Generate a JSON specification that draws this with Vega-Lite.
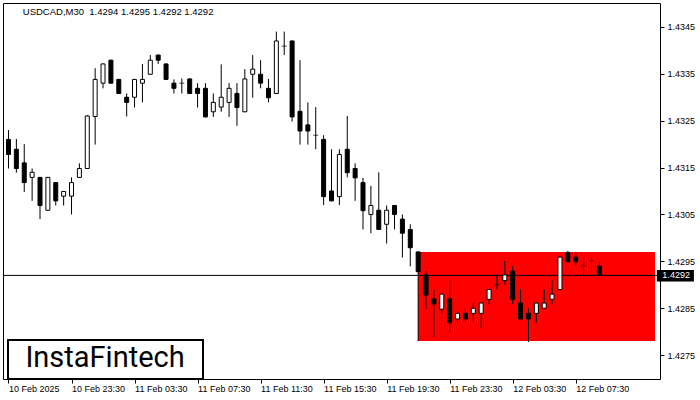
{
  "$schema": "https://vega.github.io/schema/vega-lite/v6.json",
  "width": 657,
  "height": 376,
  "autosize": {"type": "none"},
  "padding": {"left": 3, "top": 3, "right": 40, "bottom": 21},
  "background": "white",
  "config": {"view": {"stroke": "black", "strokeWidth": 1}, "font": "Liberation Sans"},
  "datasets": {
    "candles": [
      {"i": 0, "o": 1.43210, "h": 1.43230, "l": 1.43148, "c": 1.43178},
      {"i": 1, "o": 1.43189, "h": 1.43211, "l": 1.43139, "c": 1.43148},
      {"i": 2, "o": 1.43160, "h": 1.43200, "l": 1.43098, "c": 1.43118},
      {"i": 3, "o": 1.43129, "h": 1.43148, "l": 1.43079, "c": 1.43140},
      {"i": 4, "o": 1.43129, "h": 1.43130, "l": 1.43040, "c": 1.43069},
      {"i": 5, "o": 1.43059, "h": 1.43130, "l": 1.43058, "c": 1.43129},
      {"i": 6, "o": 1.43118, "h": 1.43119, "l": 1.43069, "c": 1.43079},
      {"i": 7, "o": 1.43089, "h": 1.43100, "l": 1.43069, "c": 1.43099},
      {"i": 8, "o": 1.43089, "h": 1.43129, "l": 1.43050, "c": 1.43118},
      {"i": 9, "o": 1.43129, "h": 1.43159, "l": 1.43128, "c": 1.43148},
      {"i": 10, "o": 1.43148, "h": 1.43262, "l": 1.43147, "c": 1.43260},
      {"i": 11, "o": 1.43259, "h": 1.43362, "l": 1.43199, "c": 1.43338},
      {"i": 12, "o": 1.43330, "h": 1.43372, "l": 1.43319, "c": 1.43371},
      {"i": 13, "o": 1.43379, "h": 1.43380, "l": 1.43329, "c": 1.43330},
      {"i": 14, "o": 1.43338, "h": 1.43339, "l": 1.43307, "c": 1.43308},
      {"i": 15, "o": 1.43300, "h": 1.43308, "l": 1.43259, "c": 1.43289},
      {"i": 16, "o": 1.43300, "h": 1.43339, "l": 1.43278, "c": 1.43338},
      {"i": 17, "o": 1.43330, "h": 1.43371, "l": 1.43289, "c": 1.43338},
      {"i": 18, "o": 1.43349, "h": 1.43390, "l": 1.43348, "c": 1.43379},
      {"i": 19, "o": 1.43390, "h": 1.43391, "l": 1.43371, "c": 1.43379},
      {"i": 20, "o": 1.43371, "h": 1.43372, "l": 1.43337, "c": 1.43338},
      {"i": 21, "o": 1.43330, "h": 1.43338, "l": 1.43308, "c": 1.43319},
      {"i": 22, "o": 1.43330, "h": 1.43340, "l": 1.43308, "c": 1.43330},
      {"i": 23, "o": 1.43339, "h": 1.43340, "l": 1.43307, "c": 1.43308},
      {"i": 24, "o": 1.43319, "h": 1.43330, "l": 1.43278, "c": 1.43308},
      {"i": 25, "o": 1.43319, "h": 1.43330, "l": 1.43257, "c": 1.43258},
      {"i": 26, "o": 1.43269, "h": 1.43308, "l": 1.43258, "c": 1.43289},
      {"i": 27, "o": 1.43279, "h": 1.43370, "l": 1.43269, "c": 1.43300},
      {"i": 28, "o": 1.43289, "h": 1.43330, "l": 1.43258, "c": 1.43319},
      {"i": 29, "o": 1.43308, "h": 1.43330, "l": 1.43239, "c": 1.43278},
      {"i": 30, "o": 1.43269, "h": 1.43360, "l": 1.43268, "c": 1.43339},
      {"i": 31, "o": 1.43349, "h": 1.43390, "l": 1.43299, "c": 1.43360},
      {"i": 32, "o": 1.43349, "h": 1.43379, "l": 1.43319, "c": 1.43330},
      {"i": 33, "o": 1.43319, "h": 1.43339, "l": 1.43289, "c": 1.43299},
      {"i": 34, "o": 1.43308, "h": 1.43440, "l": 1.43307, "c": 1.43420},
      {"i": 35, "o": 1.43409, "h": 1.43440, "l": 1.43390, "c": 1.43409},
      {"i": 36, "o": 1.43420, "h": 1.43421, "l": 1.43248, "c": 1.43258},
      {"i": 37, "o": 1.43270, "h": 1.43379, "l": 1.43199, "c": 1.43228},
      {"i": 38, "o": 1.43241, "h": 1.43289, "l": 1.43199, "c": 1.43228},
      {"i": 39, "o": 1.43219, "h": 1.43279, "l": 1.43189, "c": 1.43219},
      {"i": 40, "o": 1.43210, "h": 1.43219, "l": 1.43070, "c": 1.43088},
      {"i": 41, "o": 1.43100, "h": 1.43189, "l": 1.43078, "c": 1.43079},
      {"i": 42, "o": 1.43088, "h": 1.43189, "l": 1.43070, "c": 1.43178},
      {"i": 43, "o": 1.43189, "h": 1.43260, "l": 1.43129, "c": 1.43139},
      {"i": 44, "o": 1.43148, "h": 1.43159, "l": 1.43079, "c": 1.43128},
      {"i": 45, "o": 1.43118, "h": 1.43128, "l": 1.43018, "c": 1.43058},
      {"i": 46, "o": 1.43050, "h": 1.43111, "l": 1.43010, "c": 1.43069},
      {"i": 47, "o": 1.43059, "h": 1.43140, "l": 1.43017, "c": 1.43018},
      {"i": 48, "o": 1.43029, "h": 1.43069, "l": 1.42988, "c": 1.43059},
      {"i": 49, "o": 1.43069, "h": 1.43070, "l": 1.43018, "c": 1.43050},
      {"i": 50, "o": 1.43040, "h": 1.43050, "l": 1.42958, "c": 1.43010},
      {"i": 51, "o": 1.43018, "h": 1.43029, "l": 1.42939, "c": 1.42979},
      {"i": 52, "o": 1.42970, "h": 1.42971, "l": 1.42780, "c": 1.42928},
      {"i": 53, "o": 1.42921, "h": 1.42929, "l": 1.42848, "c": 1.42878},
      {"i": 54, "o": 1.42870, "h": 1.42890, "l": 1.42789, "c": 1.42859},
      {"i": 55, "o": 1.42848, "h": 1.42881, "l": 1.42838, "c": 1.42880},
      {"i": 56, "o": 1.42870, "h": 1.42910, "l": 1.42798, "c": 1.42819},
      {"i": 57, "o": 1.42827, "h": 1.42840, "l": 1.42819, "c": 1.42839},
      {"i": 58, "o": 1.42839, "h": 1.42850, "l": 1.42819, "c": 1.42827},
      {"i": 59, "o": 1.42839, "h": 1.42861, "l": 1.42819, "c": 1.42850},
      {"i": 60, "o": 1.42839, "h": 1.42862, "l": 1.42808, "c": 1.42861},
      {"i": 61, "o": 1.42869, "h": 1.42891, "l": 1.42859, "c": 1.42890},
      {"i": 62, "o": 1.42900, "h": 1.42921, "l": 1.42890, "c": 1.42900},
      {"i": 63, "o": 1.42909, "h": 1.42951, "l": 1.42900, "c": 1.42921},
      {"i": 64, "o": 1.42929, "h": 1.42940, "l": 1.42859, "c": 1.42869},
      {"i": 65, "o": 1.42861, "h": 1.42890, "l": 1.42826, "c": 1.42827},
      {"i": 66, "o": 1.42839, "h": 1.42850, "l": 1.42778, "c": 1.42827},
      {"i": 67, "o": 1.42839, "h": 1.42862, "l": 1.42819, "c": 1.42861},
      {"i": 68, "o": 1.42850, "h": 1.42890, "l": 1.42849, "c": 1.42861},
      {"i": 69, "o": 1.42869, "h": 1.42910, "l": 1.42859, "c": 1.42880},
      {"i": 70, "o": 1.42890, "h": 1.42960, "l": 1.42889, "c": 1.42959},
      {"i": 71, "o": 1.42969, "h": 1.42972, "l": 1.42948, "c": 1.42949},
      {"i": 72, "o": 1.42959, "h": 1.42970, "l": 1.42940, "c": 1.42949},
      {"i": 73, "o": 1.42940, "h": 1.42959, "l": 1.42921, "c": 1.42940},
      {"i": 74, "o": 1.42951, "h": 1.42959, "l": 1.42928, "c": 1.42951},
      {"i": 75, "o": 1.42940, "h": 1.42950, "l": 1.42920, "c": 1.42920}
    ],
    "zone": [{"i1": 52, "i2": 82.0625, "lo": 1.4278, "hi": 1.4297}],
    "last": [{"p": 1.4292}],
    "logo": [{"label": "InstaFintech"}],
    "header": [{"label": "USDCAD,M30\u00a0 1.4294 1.4295 1.4292 1.4292"}]
  },
  "layer": [
    {
      "data": {"name": "zone"},
      "mark": {"type": "rect", "color": "#ff0000"},
      "encoding": {
        "x": {"field": "i1", "type": "quantitative",
          "scale": {"domain": [-0.0625, 82.0625], "nice": false, "zero": false},
          "axis": {"values": [0, 8, 16, 24, 32, 40, 48, 56, 64, 72],
            "labelExpr": "['10 Feb 2025','10 Feb 23:30','11 Feb 03:30','11 Feb 07:30','11 Feb 11:30','11 Feb 15:30','11 Feb 19:30','11 Feb 23:30','12 Feb 03:30','12 Feb 07:30'][round(datum.value/8)]",
            "labelAlign": "left", "labelPadding": 1, "tickSize": 4, "tickColor": "black",
            "domain": false, "grid": false, "labelFontSize": 9, "labelColor": "black",
            "title": null, "labelFlush": false, "labelOverlap": false, "labelBound": false}},
        "x2": {"field": "i2"},
        "y": {"field": "lo", "type": "quantitative",
          "scale": {"domain": [1.42699, 1.43501], "nice": false, "zero": false},
          "axis": {"orient": "right", "values": [1.4275, 1.4285, 1.4295, 1.4305, 1.4315, 1.4325, 1.4335, 1.4345],
            "format": ".4f", "tickSize": 4, "tickColor": "black", "labelPadding": 3, "domain": false, "grid": false,
            "title": null, "labelFontSize": 9, "labelColor": "black", "labelOverlap": false, "labelFlush": false}},
        "y2": {"field": "hi"}
      }
    },
    {
      "data": {"name": "last"},
      "mark": {"type": "rule", "color": "black", "strokeWidth": 1},
      "encoding": {"y": {"field": "p", "type": "quantitative"}}
    },
    {
      "data": {"name": "candles"},
      "mark": {"type": "rule", "color": "black", "strokeWidth": 1},
      "encoding": {
        "x": {"field": "i", "type": "quantitative"},
        "y": {"field": "l", "type": "quantitative"},
        "y2": {"field": "h"}
      }
    },
    {
      "data": {"name": "candles"},
      "transform": [{"filter": "datum.o != datum.c"}],
      "mark": {"type": "bar", "size": 4, "stroke": "black", "strokeWidth": 1},
      "encoding": {
        "x": {"field": "i", "type": "quantitative"},
        "y": {"field": "o", "type": "quantitative"},
        "y2": {"field": "c"},
        "fill": {"condition": {"test": "datum.c < datum.o", "value": "black"}, "value": "white"}
      }
    },
    {
      "data": {"name": "candles"},
      "transform": [{"filter": "datum.o == datum.c"}],
      "mark": {"type": "tick", "orient": "horizontal", "size": 5, "thickness": 1, "color": "black"},
      "encoding": {
        "x": {"field": "i", "type": "quantitative"},
        "y": {"field": "o", "type": "quantitative"}
      }
    },
    {
      "data": {"name": "last"},
      "mark": {"type": "rect", "color": "black", "clip": false, "yOffset": -5.5, "y2Offset": 6},
      "encoding": {
        "x": {"datum": 82.3, "type": "quantitative"},
        "x2": {"datum": 87.0},
        "y": {"field": "p", "type": "quantitative"},
        "y2": {"field": "p"}
      }
    },
    {
      "data": {"name": "last"},
      "mark": {"type": "text", "color": "white", "align": "left", "baseline": "middle", "fontSize": 9, "dx": 5.5, "clip": false},
      "encoding": {
        "x": {"datum": 82.3, "type": "quantitative"},
        "y": {"field": "p", "type": "quantitative"},
        "text": {"field": "p", "type": "quantitative", "format": ".4f"}
      }
    },
    {
      "data": {"name": "header"},
      "mark": {"type": "text", "color": "black", "align": "left", "baseline": "middle", "fontSize": 9.5, "font": "Liberation Sans"},
      "encoding": {
        "x": {"datum": 1.8125, "type": "quantitative"},
        "y": {"datum": 1.43482, "type": "quantitative"},
        "text": {"field": "label"}
      }
    },
    {
      "data": {"name": "logo"},
      "mark": {"type": "rect", "fill": "white", "stroke": "black", "strokeWidth": 2},
      "encoding": {
        "x": {"datum": -0.0625, "type": "quantitative"},
        "x2": {"datum": 24.69},
        "y": {"datum": 1.42699, "type": "quantitative"},
        "y2": {"datum": 1.42782}
      }
    },
    {
      "data": {"name": "logo"},
      "mark": {"type": "text", "font": "Roboto", "fontSize": 29, "fontWeight": 400, "color": "black", "align": "center", "baseline": "middle"},
      "encoding": {
        "x": {"datum": 12.26, "type": "quantitative"},
        "y": {"datum": 1.42744, "type": "quantitative"},
        "text": {"field": "label"}
      }
    }
  ]
}
